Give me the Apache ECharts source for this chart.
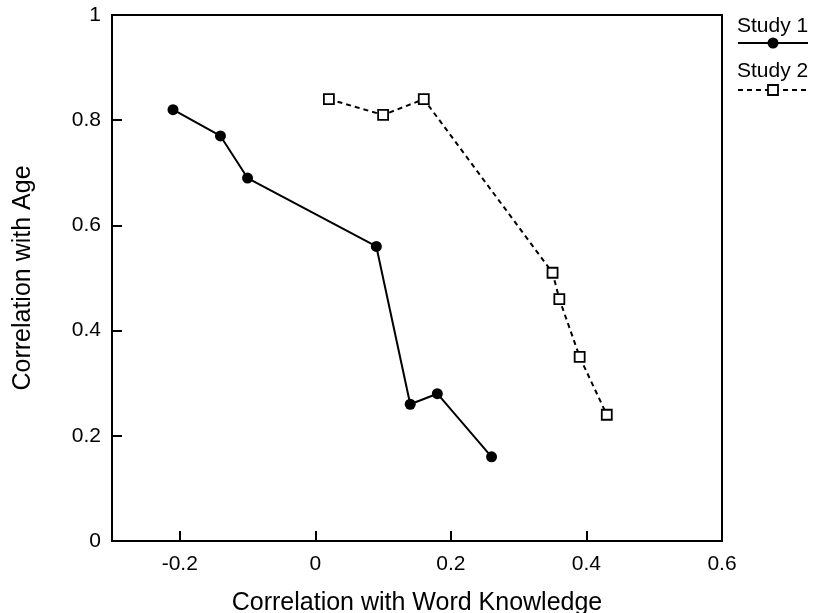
<!DOCTYPE html>
<html>
<head>
<meta charset="utf-8">
<script src="https://cdn.jsdelivr.net/npm/echarts@6/dist/echarts.min.js"></script>
<style>html,body{margin:0;padding:0;background:#fff}#c{width:817px;height:613px}</style>
</head>
<body>
<div id="c"></div>
<script>
const seriesNames = ["Study 1", "Study 2"];
const study1X = [-0.21, -0.14, -0.10, 0.09, 0.14, 0.18, 0.26];
const study1Y = [0.82, 0.77, 0.69, 0.56, 0.26, 0.28, 0.16];
const study2X = [0.02, 0.10, 0.16, 0.35, 0.36, 0.39, 0.43];
const study2Y = [0.84, 0.81, 0.84, 0.51, 0.46, 0.35, 0.24];
const xTicks = [-0.2, 0, 0.2, 0.4, 0.6];
const yTicks = [0, 0.2, 0.4, 0.6, 0.8, 1];
const xTitle = "Correlation with Word Knowledge";
const yTitle = "Correlation with Age";

const FONT = "Liberation Sans";
const pairs = (xs, ys) => xs.map((x, i) => [x, ys[i]]);

const chart = echarts.init(document.getElementById('c'), null, {renderer: 'canvas'});
chart.setOption({
  animation: false,
  backgroundColor: '#fff',
  grid: {left: 112, right: 95, top: 15, bottom: 72, outerBoundsMode: 'none', containLabel: false,
    show: true, borderColor: '#000', borderWidth: 2, backgroundColor: 'transparent'},
  xAxis: {
    type: 'value', min: -0.3, max: 0.6,
    name: xTitle, nameLocation: 'middle', nameGap: 50,
    nameTextStyle: {fontFamily: FONT, fontSize: 25, color: '#000'},
    axisLine: {onZero: false, lineStyle: {color: '#000', width: 2}},
    axisTick: {inside: true, length: 10, customValues: xTicks, lineStyle: {color: '#000', width: 2}},
    axisLabel: {customValues: xTicks, margin: 13, fontFamily: FONT, fontSize: 21, color: '#000',
      formatter: v => String(Math.round(v * 10) / 10)},
    splitLine: {show: false}
  },
  yAxis: {
    type: 'value', min: 0, max: 1, interval: 0.2,
    name: yTitle, nameLocation: 'middle', nameGap: 76, nameRotate: 90,
    nameTextStyle: {fontFamily: FONT, fontSize: 25, color: '#000'},
    axisLine: {onZero: false, lineStyle: {color: '#000', width: 2}},
    axisTick: {inside: true, length: 10, lineStyle: {color: '#000', width: 2}},
    axisLabel: {margin: 11, fontFamily: FONT, fontSize: 21, color: '#000',
      formatter: v => String(Math.round(v * 10) / 10)},
    splitLine: {show: false}
  },
  series: [
    {
      name: seriesNames[0], type: 'line', data: pairs(study1X, study1Y),
      symbol: 'circle', symbolSize: 11,
      lineStyle: {color: '#000', width: 2},
      itemStyle: {color: '#000', borderColor: '#000', borderWidth: 0}
    },
    {
      name: seriesNames[1], type: 'line', data: pairs(study2X, study2Y),
      symbol: 'rect', symbolSize: 10,
      lineStyle: {color: '#000', width: 2, type: [5, 4]},
      itemStyle: {color: '#fff', borderColor: '#000', borderWidth: 1.8}
    }
  ],
  graphic: [
    {type: 'text', left: 737, top: 16, style: {text: seriesNames[0], font: '21px "Liberation Sans"', fill: '#000'}},
    {type: 'line', shape: {x1: 738, y1: 43, x2: 808, y2: 43}, style: {stroke: '#000', lineWidth: 2}},
    {type: 'circle', shape: {cx: 773, cy: 43, r: 5.5}, style: {fill: '#000'}},
    {type: 'text', left: 737, top: 61, style: {text: seriesNames[1], font: '21px "Liberation Sans"', fill: '#000'}},
    {type: 'line', shape: {x1: 738, y1: 90, x2: 808, y2: 90}, style: {stroke: '#000', lineWidth: 2, lineDash: [5, 4]}},
    {type: 'rect', shape: {x: 768, y: 85, width: 10, height: 10}, style: {fill: '#fff', stroke: '#000', lineWidth: 1.8}}
  ]
});
</script>
</body>
</html>
